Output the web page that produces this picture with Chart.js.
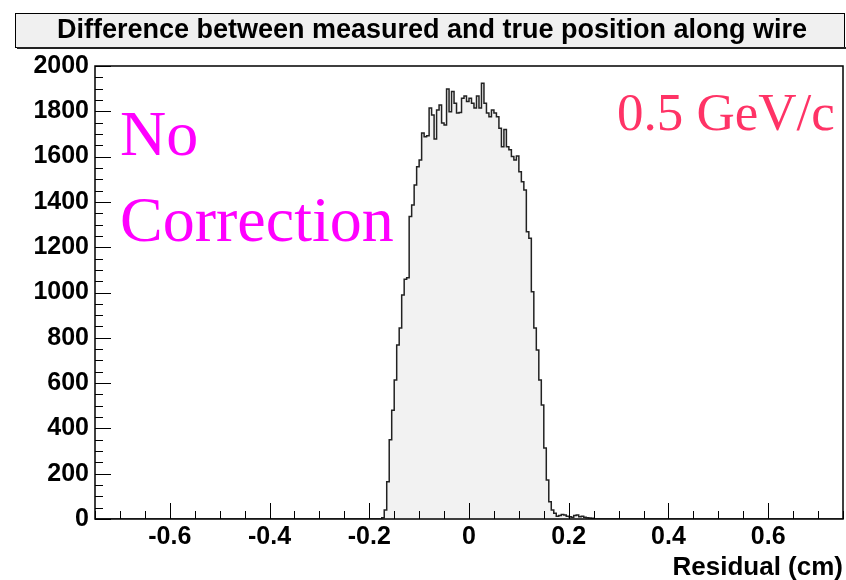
<!DOCTYPE html>
<html>
<head>
<meta charset="utf-8">
<script src="https://cdn.jsdelivr.net/npm/chart.js@4.4.1/dist/chart.umd.min.js"></script>
<style>
html, body { margin: 0; padding: 0; background: #fff; }
#wrap { width: 846px; height: 580px; position: relative; }
</style>
</head>
<body>
<div id="wrap"><canvas id="residuals"></canvas></div>
<script>
// histogram: bins of 0.005 cm, counts start at firstBinEdge
const titleText = 'Difference between measured and true position along wire';
const xTitle = 'Residual (cm)';
const xTicks = [-0.6, -0.4, -0.2, 0, 0.2, 0.4, 0.6];
const yTicks = [0, 200, 400, 600, 800, 1000, 1200, 1400, 1600, 1800, 2000];
const xRange = [-0.75, 0.75];
const yRange = [0, 2000];
const binWidth = 0.005;
const firstBinEdge = -0.175;
const counts = [
    5, 40, 165, 350, 480, 614, 768, 843, 989, 1058,
    1065, 1335, 1386, 1475, 1555, 1585, 1704, 1688, 1692, 1815,
    1784, 1678, 1806, 1828, 1748, 1740, 1898, 1798, 1887, 1836,
    1792, 1795, 1858, 1868, 1843, 1858, 1836, 1815, 1868, 1815,
    1924, 1836, 1792, 1776, 1806, 1792, 1776, 1725, 1644, 1720,
    1644, 1630, 1600, 1585, 1603, 1533, 1489, 1452, 1268, 1240,
    1003, 843, 746, 614, 503, 313, 172, 76, 40, 25,
    12, 15, 20, 18, 12, 10, 8, 16, 18, 10,
    12, 8, 5, 4, 3
];
const annotationLines = ['No', 'Correction'];
const momentumText = '0.5 GeV/c';

function buildPoints() {
    const nBins = Math.round((xRange[1] - xRange[0]) / binWidth);
    const offset = Math.round((firstBinEdge - xRange[0]) / binWidth);
    const points = [];
    for (let i = 0; i < nBins; i++) {
        const c = counts[i - offset];
        points.push({ x: xRange[0] + i * binWidth, y: c === undefined ? 0 : c });
    }
    points.push({ x: xRange[1], y: 0 });
    return points;
}

const titleBox = {
    id: 'titleBox',
    beforeDraw(chart) {
        const ctx = chart.ctx;
        ctx.save();
        ctx.fillStyle = '#f0f0f0';
        ctx.fillRect(15, 13, 829, 34);
        ctx.strokeStyle = '#000';
        ctx.lineWidth = 1;
        ctx.strokeRect(15.5, 13.5, 829, 34);
        ctx.fillStyle = '#222';
        ctx.fillRect(17, 47, 829, 2);
        ctx.fillStyle = '#000';
        ctx.font = 'bold 27px "Liberation Sans", Arial, sans-serif';
        ctx.textAlign = 'center';
        ctx.textBaseline = 'middle';
        ctx.fillText(titleText, 432, 31);
        ctx.restore();
    }
};

const frameTicks = {
    id: 'frameTicks',
    afterDatasetsDraw(chart) {
        const ctx = chart.ctx;
        const area = chart.chartArea;
        const xs = chart.scales.x;
        const ys = chart.scales.y;
        ctx.save();
        ctx.strokeStyle = '#000';
        ctx.lineWidth = 1;
        ctx.beginPath();
        for (let k = -15; k <= 15; k++) {
            const px = Math.round(xs.getPixelForValue(k * 0.05)) + 0.5;
            const len = k % 4 === 0 ? 16 : 8;
            ctx.moveTo(px, area.bottom);
            ctx.lineTo(px, area.bottom - len);
        }
        for (let v = yRange[0]; v <= yRange[1]; v += 50) {
            const py = Math.round(ys.getPixelForValue(v)) + 0.5;
            const len = v % 200 === 0 ? 16 : 8;
            ctx.moveTo(area.left, py);
            ctx.lineTo(area.left + len, py);
        }
        ctx.stroke();
        ctx.lineWidth = 1.5;
        ctx.strokeRect(area.left, area.top, area.right - area.left, area.bottom - area.top);
        ctx.restore();
    },
    afterDraw(chart) {
        const ctx = chart.ctx;
        ctx.save();
        ctx.textBaseline = 'alphabetic';
        ctx.textAlign = 'left';
        ctx.fillStyle = '#ff00ff';
        ctx.font = '64px "Liberation Serif", "Times New Roman", serif';
        ctx.fillText(annotationLines[0], 120, 155);
        ctx.fillText(annotationLines[1], 120, 241);
        ctx.fillStyle = '#ff3366';
        ctx.font = '53px "Liberation Serif", "Times New Roman", serif';
        ctx.fillText(momentumText, 617, 130);
        ctx.restore();
    }
};

const tickFont = { family: '"Liberation Sans", Arial, sans-serif', size: 25, weight: 'bold' };
const titleFont = { family: '"Liberation Sans", Arial, sans-serif', size: 26, weight: 'bold' };

new Chart(document.getElementById('residuals'), {
    type: 'line',
    data: {
        datasets: [{
            data: buildPoints(),
            stepped: true,
            borderColor: '#222',
            borderWidth: 1.5,
            backgroundColor: '#f2f2f2',
            fill: 'origin',
            pointRadius: 0,
            tension: 0
        }]
    },
    options: {
        responsive: true,
        maintainAspectRatio: false,
        animation: false,
        layout: { padding: { top: 66, right: 3, left: 0, bottom: 0 } },
        plugins: {
            legend: { display: false },
            tooltip: { enabled: false }
        },
        scales: {
            x: {
                type: 'linear',
                min: xRange[0],
                max: xRange[1],
                afterBuildTicks: scale => { scale.ticks = xTicks.map(v => ({ value: v })); },
                afterFit: scale => { scale.height = 61; },
                grid: { display: false, drawTicks: false },
                border: { display: false },
                ticks: {
                    color: '#000',
                    font: tickFont,
                    padding: 3,
                    maxRotation: 0,
                    callback: v => String(v)
                },
                title: {
                    display: true,
                    text: xTitle,
                    align: 'end',
                    color: '#000',
                    font: titleFont,
                    padding: { top: 0, bottom: -3 }
                }
            },
            y: {
                min: yRange[0],
                max: yRange[1],
                afterBuildTicks: scale => { scale.ticks = yTicks.map(v => ({ value: v })); },
                afterFit: scale => { scale.width = 95; },
                grid: { display: false, drawTicks: false },
                border: { display: false },
                ticks: {
                    color: '#000',
                    font: tickFont,
                    padding: 6,
                    callback: v => String(v)
                }
            }
        }
    },
    plugins: [titleBox, frameTicks]
});
</script>
</body>
</html>
